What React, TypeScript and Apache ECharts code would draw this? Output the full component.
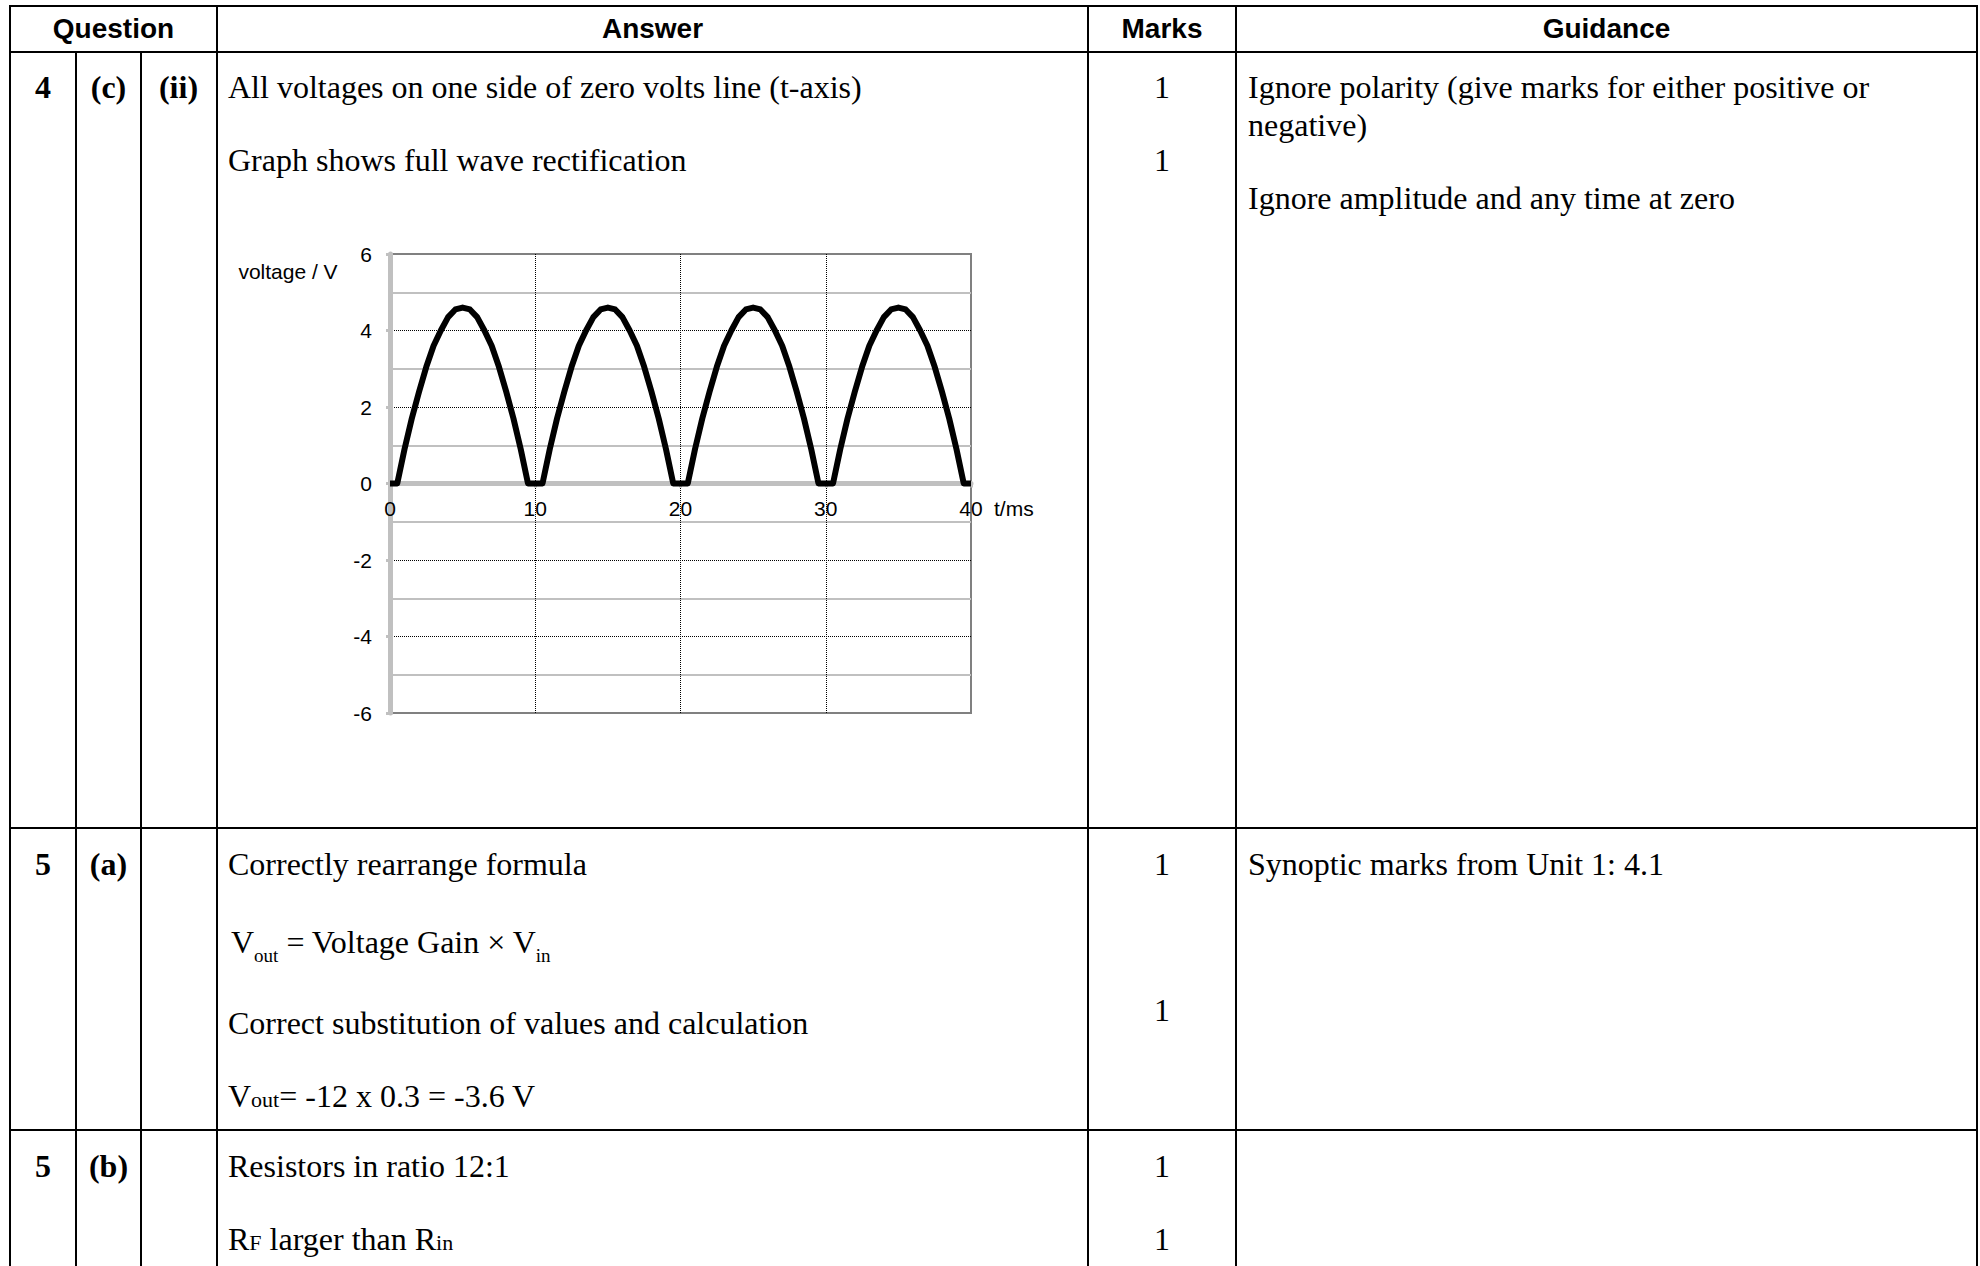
import React, { useEffect, useRef } from "react";
import * as echarts from "echarts";

// ---- chart data ----
const timeMs = [
  0, 0.5, 1, 1.5, 2, 2.5, 3, 3.5, 4, 4.5, 5, 5.5, 6, 6.5, 7, 7.5, 8, 8.5, 9, 9.5, 10,
  10.5, 11, 11.5, 12, 12.5, 13, 13.5, 14, 14.5, 15, 15.5, 16, 16.5, 17, 17.5, 18, 18.5, 19, 19.5, 20,
  20.5, 21, 21.5, 22, 22.5, 23, 23.5, 24, 24.5, 25, 25.5, 26, 26.5, 27, 27.5, 28, 28.5, 29, 29.5, 30,
  30.5, 31, 31.5, 32, 32.5, 33, 33.5, 34, 34.5, 35, 35.5, 36, 36.5, 37, 37.5, 38, 38.5, 39, 39.5, 40,
];
const voltage = [
  0, 0, 0.9, 1.7, 2.4, 3.05, 3.6, 4.0, 4.35, 4.55, 4.6, 4.55, 4.35, 4.0, 3.6, 3.05, 2.4, 1.7, 0.9, 0, 0,
  0, 0.9, 1.7, 2.4, 3.05, 3.6, 4.0, 4.35, 4.55, 4.6, 4.55, 4.35, 4.0, 3.6, 3.05, 2.4, 1.7, 0.9, 0, 0,
  0, 0.9, 1.7, 2.4, 3.05, 3.6, 4.0, 4.35, 4.55, 4.6, 4.55, 4.35, 4.0, 3.6, 3.05, 2.4, 1.7, 0.9, 0, 0,
  0, 0.9, 1.7, 2.4, 3.05, 3.6, 4.0, 4.35, 4.55, 4.6, 4.55, 4.35, 4.0, 3.6, 3.05, 2.4, 1.7, 0.9, 0, 0,
];
const yAxisTitle = "voltage / V";
const xAxisTitle = "t/ms";
const xRange = [0, 40];
const yRange = [-6, 6];

// ---- table text ----
const headers = ["Question", "Answer", "Marks", "Guidance"];

const SERIF = '"Liberation Serif", "Times New Roman", Times, serif';
const SANS = '"Liberation Sans", Arial, Helvetica, sans-serif';

// plot box (pixels on the page)
const GRID_LEFT = 390;
const GRID_TOP = 254;
const GRID_W = 581;
const GRID_H = 459;

type TxtProps = {
  x: number;
  y: number;
  align?: "left" | "center";
  bold?: boolean;
  sans?: boolean;
  size?: number;
  children: React.ReactNode;
};

function Txt({ x, y, align = "left", bold, sans, size, children }: TxtProps) {
  const fs = size ?? (sans ? 28 : 32);
  const off = sans ? fs * 0.49 : fs * 0.5;
  const style: React.CSSProperties = {
    position: "absolute",
    top: y - off,
    left: align === "center" ? x - 300 : x,
    width: align === "center" ? 600 : undefined,
    textAlign: align,
    whiteSpace: "nowrap",
    fontFamily: sans ? SANS : SERIF,
    fontSize: fs,
    lineHeight: fs + "px",
    fontWeight: bold ? 700 : 400,
    color: "#000",
  };
  return <div style={style}>{children}</div>;
}

function HLine({ y, x1, x2 }: { y: number; x1: number; x2: number }) {
  return (
    <div style={{ position: "absolute", left: x1 - 1, top: y - 1, width: x2 - x1 + 2, height: 2, background: "#000" }} />
  );
}
function VLine({ x, y1, y2 }: { x: number; y1: number; y2: number }) {
  return (
    <div style={{ position: "absolute", left: x - 1, top: y1 - 1, width: 2, height: y2 - y1 + 2, background: "#000" }} />
  );
}

function Chart() {
  const ref = useRef<HTMLDivElement>(null);
  useEffect(() => {
    if (!ref.current) return;
    const chart = echarts.init(ref.current, undefined, { renderer: "svg" });
    const seriesData = timeMs.map((t, i) => [t, voltage[i]]);
    // the time axis sits on the zero-volt line: shift it up from the grid bottom
    const zeroShift = (GRID_H * (0 - yRange[0])) / (yRange[1] - yRange[0]);
    chart.setOption({
      animation: false,
      backgroundColor: "transparent",
      textStyle: { fontFamily: SANS },
      grid: {
        left: GRID_LEFT,
        top: GRID_TOP,
        width: GRID_W,
        height: GRID_H,
        show: true,
        borderColor: "#808080",
        borderWidth: 2,
        backgroundColor: "transparent",
        containLabel: false,
        outerBoundsMode: "none",
      },
      xAxis: {
        type: "value",
        position: "bottom",
        offset: -zeroShift,
        min: xRange[0],
        max: xRange[1],
        interval: 10,
        name: xAxisTitle,
        nameLocation: "end",
        nameGap: 23,
        nameMoveOverlap: false,
        nameTextStyle: {
          fontFamily: SANS,
          fontSize: 21,
          color: "#000",
          verticalAlign: "top",
          padding: [14, 0, 0, 0],
        },
        axisLine: { show: true, onZero: false, lineStyle: { color: "#c0c0c0", width: 5 } },
        axisTick: { show: true, length: 4, lineStyle: { color: "#c0c0c0", width: 3 } },
        axisLabel: { fontFamily: SANS, fontSize: 21, color: "#000", margin: 14 },
        splitLine: {
          show: true,
          showMinLine: false,
          showMaxLine: false,
          lineStyle: { color: "#000", width: 1, type: [1, 1] },
        },
        z: 1,
      },
      yAxis: {
        type: "value",
        min: yRange[0],
        max: yRange[1],
        interval: 2,
        axisLine: { show: true, onZero: false, lineStyle: { color: "#c0c0c0", width: 5 } },
        axisTick: { show: true, length: 4, lineStyle: { color: "#c0c0c0", width: 3 } },
        axisLabel: { fontFamily: SANS, fontSize: 21, color: "#000", margin: 18 },
        splitLine: {
          show: true,
          showMinLine: false,
          showMaxLine: false,
          lineStyle: { color: "#000", width: 1, type: [1, 1] },
        },
        minorTick: { show: false, splitNumber: 2 },
        minorSplitLine: { show: true, lineStyle: { color: "#c0c0c0", width: 2 } },
        z: 0,
      },
      graphic: [
        {
          type: "text",
          x: 288,
          y: 271,
          style: {
            text: yAxisTitle,
            fontFamily: SANS,
            fontSize: 21,
            fill: "#000",
            align: "center",
            verticalAlign: "middle",
          },
        },
      ],
      series: [
        {
          type: "line",
          data: seriesData,
          symbol: "none",
          showSymbol: false,
          smooth: false,
          clip: false,
          lineStyle: { color: "#000", width: 6, join: "round", cap: "butt" },
          z: 5,
        },
      ],
    });
    return () => chart.dispose();
  }, []);
  return <div ref={ref} style={{ position: "absolute", left: 0, top: 0, width: 1980, height: 1266 }} />;
}

const subSmall: React.CSSProperties = { fontSize: 19, position: "relative", top: 9 };
const inlineSmall: React.CSSProperties = { fontSize: 22 };

export default function App() {
  const colX = [10, 76, 140.5, 217, 1088, 1236, 1977];
  const rowY = [6, 52, 828, 1130];
  const bottom = 1266;
  const markX = 1162;
  const ansX = 228;
  const guideX = 1248;
  return (
    <div
      style={{
        position: "absolute",
        left: 0,
        top: 0,
        width: 1980,
        height: 1266,
        overflow: "hidden",
        background: "#fff",
      }}
    >
      {/* table grid lines */}
      {rowY.map((y) => (
        <HLine key={"h" + y} y={y} x1={colX[0]} x2={colX[6]} />
      ))}
      {[colX[0], colX[3], colX[4], colX[5], colX[6]].map((x) => (
        <VLine key={"v" + x} x={x} y1={rowY[0]} y2={bottom} />
      ))}
      {[colX[1], colX[2]].map((x) => (
        <VLine key={"vq" + x} x={x} y1={rowY[1]} y2={bottom} />
      ))}

      {/* header */}
      <Txt x={(colX[0] + colX[3]) / 2} y={29} align="center" bold sans>{headers[0]}</Txt>
      <Txt x={(colX[3] + colX[4]) / 2} y={29} align="center" bold sans>{headers[1]}</Txt>
      <Txt x={(colX[4] + colX[5]) / 2} y={29} align="center" bold sans>{headers[2]}</Txt>
      <Txt x={(colX[5] + colX[6]) / 2} y={29} align="center" bold sans>{headers[3]}</Txt>

      {/* row 4 (c)(ii) */}
      <Txt x={43} y={87} align="center" bold>4</Txt>
      <Txt x={108.5} y={87} align="center" bold>(c)</Txt>
      <Txt x={178.5} y={87} align="center" bold>(ii)</Txt>
      <Txt x={ansX} y={87}>All voltages on one side of zero volts line (t-axis)</Txt>
      <Txt x={ansX} y={160}>Graph shows full wave rectification</Txt>
      <Txt x={markX} y={87} align="center">1</Txt>
      <Txt x={markX} y={160} align="center">1</Txt>
      <Txt x={guideX} y={87}>Ignore polarity (give marks for either positive or</Txt>
      <Txt x={guideX} y={125}>negative)</Txt>
      <Txt x={guideX} y={198}>Ignore amplitude and any time at zero</Txt>

      {/* row 5 (a) */}
      <Txt x={43} y={864} align="center" bold>5</Txt>
      <Txt x={108.5} y={864} align="center" bold>(a)</Txt>
      <Txt x={ansX} y={864}>Correctly rearrange formula</Txt>
      <Txt x={ansX + 3} y={942}>
        V<span style={subSmall}>out</span> = Voltage Gain × V<span style={subSmall}>in</span>
      </Txt>
      <Txt x={ansX} y={1023}>Correct substitution of values and calculation</Txt>
      <Txt x={ansX} y={1096}>
        V<span style={inlineSmall}>out</span>= -12 x 0.3 = -3.6 V
      </Txt>
      <Txt x={markX} y={864} align="center">1</Txt>
      <Txt x={markX} y={1010} align="center">1</Txt>
      <Txt x={guideX} y={864}>Synoptic marks from Unit 1: 4.1</Txt>

      {/* row 5 (b) */}
      <Txt x={43} y={1166} align="center" bold>5</Txt>
      <Txt x={108.5} y={1166} align="center" bold>(b)</Txt>
      <Txt x={ansX} y={1166}>Resistors in ratio 12:1</Txt>
      <Txt x={ansX} y={1239}>
        R<span style={inlineSmall}>F</span> larger than R<span style={inlineSmall}>in</span>
      </Txt>
      <Txt x={markX} y={1166} align="center">1</Txt>
      <Txt x={markX} y={1239} align="center">1</Txt>

      <Chart />
    </div>
  );
}
